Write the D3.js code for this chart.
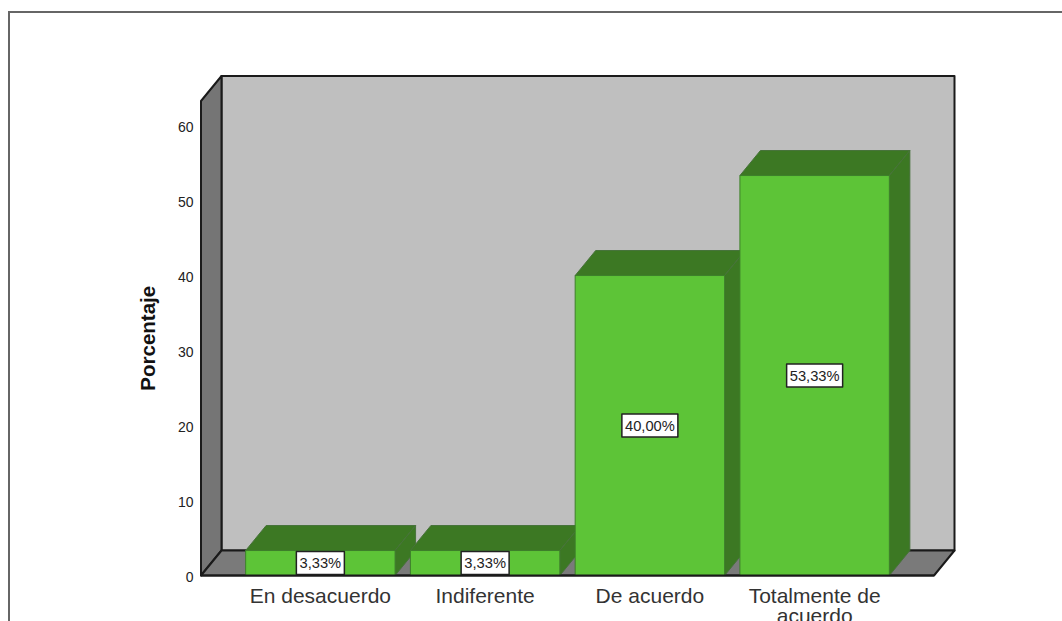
<!DOCTYPE html>
<html>
<head>
<meta charset="utf-8">
<script src="https://cdn.jsdelivr.net/npm/d3@7"></script>
<style>
html, body { margin: 0; padding: 0; background: #fff; overflow: hidden; }
svg { display: block; }
text { font-family: "Liberation Sans", Arial, sans-serif; }
</style>
</head>
<body>
<script>
const categories = ["En desacuerdo", "Indiferente", "De acuerdo", "Totalmente de acuerdo"];
const values = [3.33, 3.33, 40, 53.33];
const yTicks = [0, 10, 20, 30, 40, 50, 60];
const yTitle = "Porcentaje";

const width = 1062, height = 621;
const depthX = 20.5, depthY = 25;   // offset of the back wall
const margin = {top: 101, left: 201, bottom: 45.5, right: 128};

const x = d3.scaleBand()
    .domain(categories)
    .range([margin.left, width - margin.right])
    .paddingInner(0.093)
    .paddingOuter(0.271);

const y = d3.scaleLinear()
    .domain([0, 63.27])
    .range([height - margin.bottom, margin.top]);

const svg = d3.select("body").append("svg")
    .attr("width", width)
    .attr("height", height);

// outer frame, runs off the page on the right and bottom
svg.append("path")
    .attr("d", `M9,${height}V12H${width}`)
    .attr("fill", "none")
    .attr("stroke", "#666")
    .attr("stroke-width", 2);

const x0 = margin.left, x1 = width - margin.right;
const y0 = y(0), yTop = y.range()[1];
const poly = pts => "M" + pts.map(p => p.join(",")).join("L") + "Z";

const walls = svg.append("g")
    .attr("stroke", "#1a1a1a")
    .attr("stroke-width", 2)
    .attr("stroke-linejoin", "round");

// back wall
walls.append("path")
    .attr("fill", "#bfbfbf")
    .attr("d", poly([[x0 + depthX, yTop - depthY], [x1 + depthX, yTop - depthY], [x1 + depthX, y0 - depthY], [x0 + depthX, y0 - depthY]]));
// left wall
walls.append("path")
    .attr("fill", "#757575")
    .attr("d", poly([[x0, yTop], [x0 + depthX, yTop - depthY], [x0 + depthX, y0 - depthY], [x0, y0]]));
// floor
walls.append("path")
    .attr("fill", "#7a7a7a")
    .attr("d", poly([[x0, y0], [x0 + depthX, y0 - depthY], [x1 + depthX, y0 - depthY], [x1, y0]]));

// bars, left to right so each front covers the previous side face
const bars = svg.append("g")
    .selectAll("g")
    .data(categories.map((c, i) => ({c, v: values[i]})))
    .join("g")
    .attr("stroke-width", 1)
    .attr("stroke-linejoin", "round");

bars.append("path")
    .attr("fill", "#3c7823")
    .attr("stroke", "#47723a")
    .attr("d", d => {
        const l = x(d.c), r = l + x.bandwidth(), t = y(d.v);
        return poly([[l, t], [l + depthX, t - depthY], [r + depthX, t - depthY], [r, t]]);
    });

bars.append("path")
    .attr("fill", "#3c7823")
    .attr("stroke", "#47723a")
    .attr("d", d => {
        const r = x(d.c) + x.bandwidth(), t = y(d.v);
        return poly([[r, t], [r + depthX, t - depthY], [r + depthX, y0 - depthY], [r, y0]]);
    });

bars.append("rect")
    .attr("x", d => x(d.c))
    .attr("y", d => y(d.v))
    .attr("width", x.bandwidth())
    .attr("height", d => y0 - y(d.v))
    .attr("fill", "#5dc437")
    .attr("stroke", "#3d7f2a");

// front baseline goes over the bars' feet
svg.append("line")
    .attr("x1", x0).attr("x2", x1)
    .attr("y1", y0).attr("y2", y0)
    .attr("stroke", "#1a1a1a")
    .attr("stroke-width", 2);

// value labels
const fmt = v => v.toFixed(2).replace(".", ",") + "%";
const labels = bars.append("g")
    .attr("transform", d => `translate(${x(d.c) + x.bandwidth() / 2},${(y(d.v) + y0) / 2})`);

labels.append("rect")
    .attr("x", d => d.v > 10 ? -28 : -24)
    .attr("y", -11.5)
    .attr("width", d => d.v > 10 ? 56 : 48)
    .attr("height", 23)
    .attr("fill", "#fff")
    .attr("stroke", "#222")
    .attr("stroke-width", 1.5);

labels.append("text")
    .attr("text-anchor", "middle")
    .attr("dy", "0.36em")
    .attr("font-size", 14.7)
    .attr("fill", "#222")
    .text(d => fmt(d.v));

// axes
const yAxis = d3.axisLeft(y).tickValues(yTicks).tickSize(0).tickPadding(7.5);
svg.append("g")
    .attr("transform", `translate(${x0},0)`)
    .call(yAxis)
    .call(g => g.select(".domain").remove())
    .call(g => g.selectAll("text")
        .attr("font-size", 14)
        .attr("fill", "#222")
        .attr("dy", "0.4em")
        .style("font-family", '"Liberation Sans", Arial, sans-serif'));

const xAxis = d3.axisBottom(x).tickSize(0).tickPadding(0);
svg.append("g")
    .attr("transform", `translate(0,${y0})`)
    .call(xAxis)
    .call(g => g.select(".domain").remove())
    .call(g => g.selectAll("text")
        .attr("font-size", 21)
        .attr("fill", "#333")
        .attr("dy", null)
        .style("font-family", '"Liberation Sans", Arial, sans-serif')
        .each(function (d) {
            // wrap the long label on two lines
            const t = d3.select(this);
            const words = d.split(" ");
            const lines = words.length > 2 ? [words.slice(0, -1).join(" "), words[words.length - 1]] : [d];
            t.text(null);
            lines.forEach((s, i) => t.append("tspan")
                .attr("x", 0)
                .attr("y", 27 + i * 20)
                .text(s));
        }));

svg.append("text")
    .attr("transform", `translate(155,${(y0 + yTop) / 2}) rotate(-90)`)
    .attr("text-anchor", "middle")
    .attr("font-size", 20.5)
    .attr("font-weight", "bold")
    .attr("fill", "#111")
    .text(yTitle);
</script>
</body>
</html>
